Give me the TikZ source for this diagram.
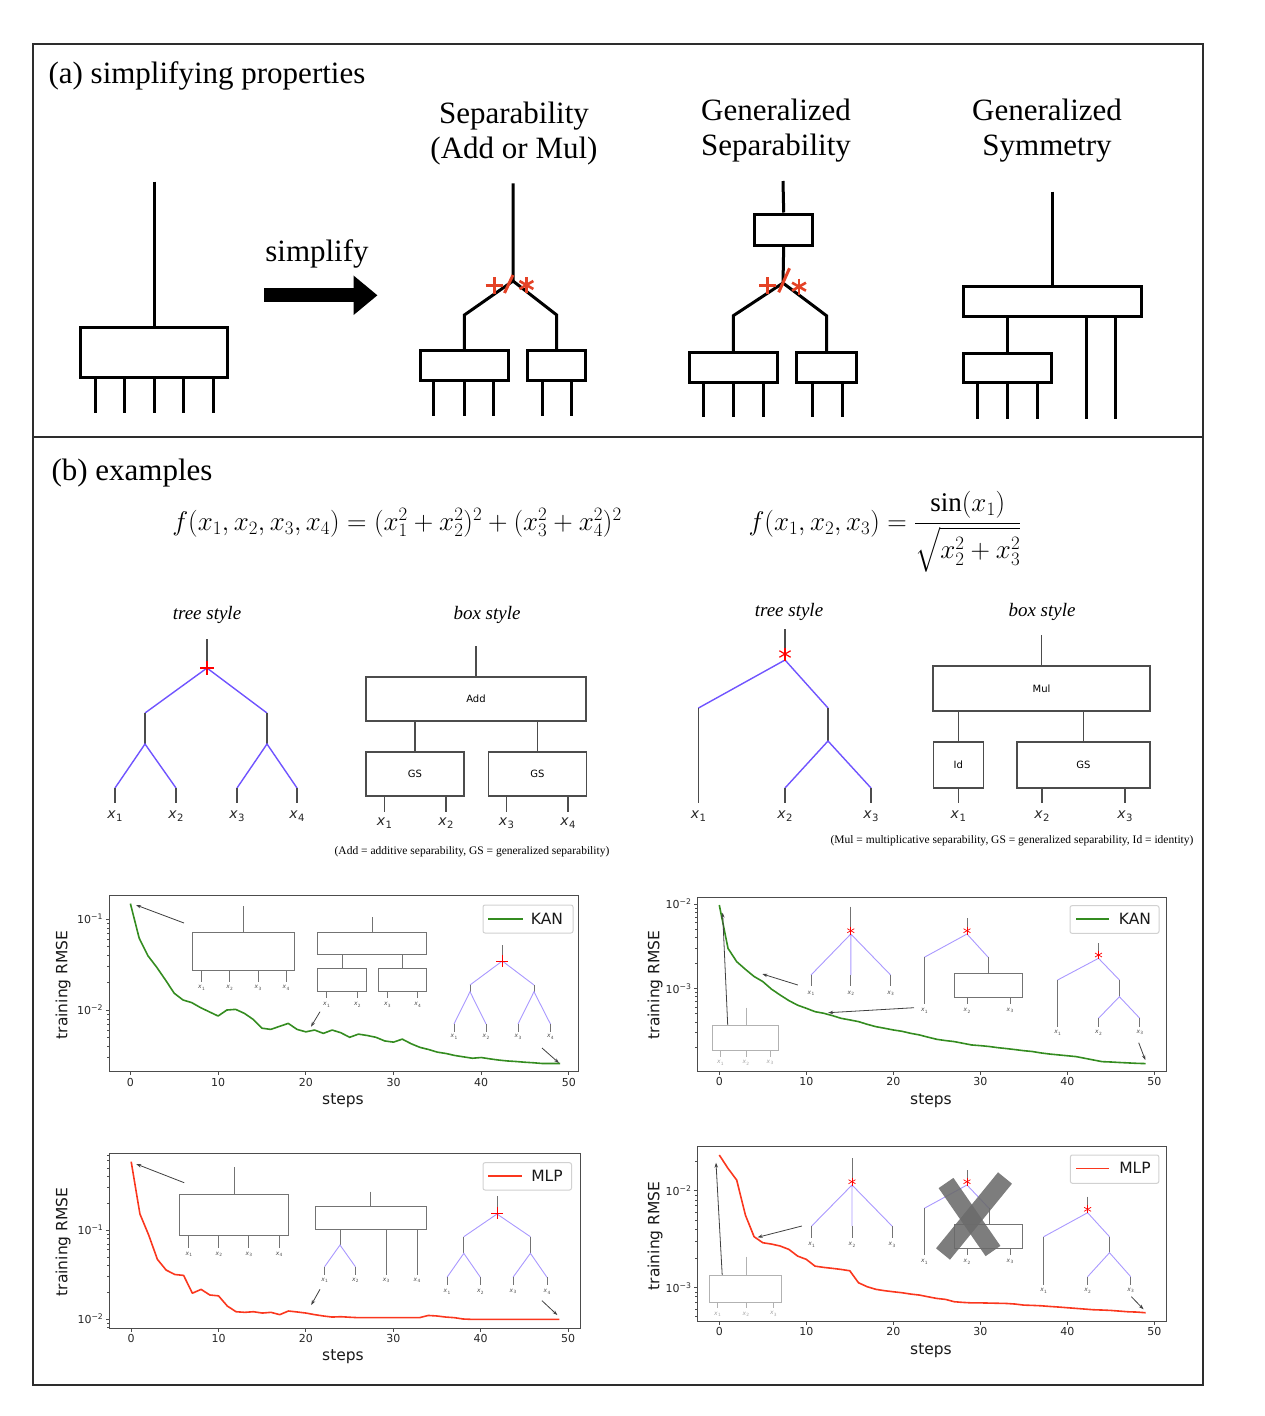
\RequirePackage{fix-cm}
\documentclass[tikz,border=0pt]{standalone}
\usepackage{amsmath}
\usepackage{fontspec}
\setmainfont{Liberation Serif}
\newfontfamily\plotfont{DejaVu Sans}
\usepackage{graphicx}
\usepackage{tikz}
\usetikzlibrary{arrows.meta,positioning,calc}

\definecolor{opred}{RGB}{228,66,38}
\definecolor{edgeblue}{RGB}{112,84,255}
\definecolor{kangreen}{RGB}{52,140,32}
\definecolor{mlpred}{RGB}{250,55,30}
\definecolor{framegray}{RGB}{45,45,45}

\newcommand{\xs}[1]{\textit{x}\kern.03em\raisebox{-.4ex}{\scalebox{.72}{#1}}}

\begin{document}
\begin{tikzpicture}[x=1pt,y=-1pt,
  fat/.style={line width=3pt},
  fatbox/.style={draw,line width=3pt,inner sep=0pt},
  head/.style={font=\fontsize{31}{35}\selectfont,align=center},
  opline/.style={opred,line width=3pt},
  sty/.style={font=\fontsize{19}{19}\selectfont\itshape},
  eq/.style={font=\fontsize{27}{27}\selectfont},
  stem/.style={black!70,line width=1.1pt},
  bedge/.style={edgeblue,line width=1.4pt},
  sbox/.style={draw=black!70,line width=1.1pt,inner sep=0pt,font=\plotfont\fontsize{10}{10}\selectfont},
  xlab/.style={font=\plotfont\fontsize{14}{14}\selectfont,text=black!85},
  note/.style={font=\fontsize{11.5}{11.5}\selectfont},
  frameline/.style={framegray!85,line width=1pt},
  ticklab/.style={font=\plotfont\fontsize{11}{11}\selectfont,text=black!85,inner sep=2pt},
  lab/.style={font=\plotfont\fontsize{15.5}{15.5}\selectfont,text=black!90},
  legbox/.style={draw=black!18,rounded corners=2pt,fill=white,line width=1pt},
  istem/.style={black!55,line width=0.8pt},
  iedge/.style={edgeblue!60,line width=0.9pt},
  ibox/.style={draw=black!55,line width=0.8pt},
  ilab/.style={font=\plotfont\fontsize{6}{6}\selectfont,text=black!70,inner sep=0pt},
  faint/.style={black!30,line width=0.8pt},
  parrow/.style={black!75,line width=0.8pt,-{Stealth[length=5pt,width=3.5pt]}},
  kan/.style={kangreen,line width=1.6pt,line join=round},
  mlp/.style={mlpred,line width=1.6pt,line join=round}]
\useasboundingbox (0,0) rectangle (1264,1416);
\draw[framegray,line width=2pt] (33,44) rectangle (1203,1385);
\draw[framegray,line width=2pt] (33,437) -- (1203,437);

% ---------- (a) simplifying properties
\node (ta) [head,anchor=west] at (45,76) {(a) simplifying properties};

\node (whole) [fatbox,minimum width=147pt,minimum height=50pt] at (154.4,352.3) {};
\coordinate (wtop) at (154.4,181.7);
\draw[fat] (wtop) -- (whole.north);
\foreach \x in {95,124.5,154.4,183.8,213.7}
  \draw[fat] (\x,0 |- whole.south) -- (\x,412.7);

\node (simp) [head] at (317,254) {simplify};
\coordinate (ar0) at (264,295.3);
\coordinate (ar1) at (377.5,295.3);
\draw[line width=14pt,-{Triangle[length=24pt,width=38pt]}] (ar0) -- (ar1);

% separability
\node (sep) [head] at (514,134) {Separability\\(Add or Mul)};
\coordinate (s0) at (513,183.3);
\coordinate (sr) at (513,281);
\coordinate (sa) at (464.4,315);
\coordinate (sb) at (556.7,315);
\node (sx) [fatbox,minimum width=88pt,minimum height=30pt] at (464.4,365.7) {};
\node (sy) [fatbox,minimum width=58.5pt,minimum height=30pt] at (556.7,365.7) {};
\draw[fat] (s0) -- (sr) -- (sa) -- (sx.north);
\draw[fat] (sr) -- (sb) -- (sy.north);
\foreach \x in {433.7,464.4,493.8}
  \draw[fat] (\x,0 |- sx.south) -- (\x,416);
\foreach \x in {542,571.5}
  \draw[fat] (\x,0 |- sy.south) -- (\x,416);
% +/* sign
\coordinate (sp) at (494,285.5);
\coordinate (sm) at (526.4,285);
\draw[opline] (sp) +(-8.5pt,0pt) -- +(8.5pt,0pt) (sp) +(0pt,-8.5pt) -- +(0pt,8.5pt);
\draw[opline] (504.5,293) -- (513,275);
\foreach \a in {90,30,150}
  \draw[opline,line width=2.6pt] (sm) +(\a:8pt) -- +(\a+180:8pt);

% generalized separability
\node (gsep) [head] at (776,131) {Generalized\\Separability};
\coordinate (g0) at (783,181);
\node (gtop) [fatbox,minimum width=58.5pt,minimum height=31pt] at (783.7,229.5) {};
\coordinate (gr) at (783,283);
\coordinate (ga) at (733.3,315.7);
\coordinate (gb) at (826.5,315.7);
\node (gx) [fatbox,minimum width=88.5pt,minimum height=30pt] at (733.3,367.3) {};
\node (gy) [fatbox,minimum width=59.5pt,minimum height=30pt] at (826.5,367.3) {};
\draw[fat] (g0) -- (gtop.north);
\draw[fat] (gtop.south) -- (gr) -- (ga) -- (gx.north);
\draw[fat] (gr) -- (gb) -- (gy.north);
\foreach \x in {703.6,733.3,763.8}
  \draw[fat] (\x,0 |- gx.south) -- (\x,417.3);
\foreach \x in {812,842}
  \draw[fat] (\x,0 |- gy.south) -- (\x,417.3);
% +/* sign
\coordinate (gp) at (767.5,285.5);
\coordinate (gm) at (799,286.7);
\draw[opline] (gp) +(-8.5pt,0pt) -- +(8.5pt,0pt) (gp) +(0pt,-8.5pt) -- +(0pt,8.5pt);
\draw[opline] (778.7,292.3) -- (789.5,268.3);
\foreach \a in {90,30,150}
  \draw[opline,line width=2.6pt] (gm) +(\a:8pt) -- +(\a+180:8pt);

% generalized symmetry
\node (gsym) [head] at (1047,131) {Generalized\\Symmetry};
\coordinate (y0) at (1052,191.7);
\node (ybig) [fatbox,minimum width=178pt,minimum height=30pt] at (1052,301.7) {};
\node (ysmall) [fatbox,minimum width=88pt,minimum height=29pt] at (1007.9,367.8) {};
\draw[fat] (y0) -- (ybig.north);
\draw[fat] (ysmall.north |- ybig.south) -- (ysmall.north);
\foreach \x in {977.6,1007.9,1037.8}
  \draw[fat] (\x,0 |- ysmall.south) -- (\x,419);
\foreach \x in {1086,1115}
  \draw[fat] (\x,0 |- ybig.south) -- (\x,419);

% ---------- (b) examples
\node (tb) [head,anchor=west] at (48,473) {(b) examples};
\node (f1) [eq,anchor=base] at (397,530) {$f(x_1,x_2,x_3,x_4) = (x_1^2+x_2^2)^2+(x_3^2+x_4^2)^2$};
\node (f2) [eq,anchor=base west] at (745,530) {$f(x_1,x_2,x_3) = \dfrac{\sin(x_1)}{\sqrt{x_2^2+x_3^2}}$};

% left tree style
\node (ts1) [sty] at (207,615) {tree style};
\coordinate (l0) at (207,639);
\coordinate (lr) at (207,668);
\coordinate (la) at (145,713);
\coordinate (lb) at (267,713);
\coordinate (la2) at (145,744);
\coordinate (lb2) at (267,744);
\draw[stem] (l0) -- (lr);
\draw[bedge] (la) -- (lr) -- (lb);
\draw[stem] (la) -- (la2) (lb) -- (lb2);
\draw[bedge] (115,788) -- (la2) -- (176,788) (237,788) -- (lb2) -- (297,788);
\foreach \x/\i in {115/1,176/2,237/3,297/4} {
  \node (lx\i) [xlab] at (\x,816) {\xs{\i}};
  \draw[stem] (\x,788) -- (\x,803);
}
\draw[red,line width=1.3pt] (200,668) -- (214,668) (207,661) -- (207,675);

% left box style
\node (bs1) [sty] at (487,615) {box style};
\node (add) [sbox,minimum width=220pt,minimum height=44pt] at (476,699) {Add};
\node (gsa) [sbox,minimum width=98pt,minimum height=44pt] at (415,774) {GS};
\node (gsb) [sbox,minimum width=97.5pt,minimum height=44pt] at (537.3,774) {GS};
\coordinate (a0) at (476,646);
\draw[stem] (a0) -- (add.north);
\draw[stem] (gsa.north |- add.south) -- (gsa.north);
\draw[stem] (gsb.north |- add.south) -- (gsb.north);
\foreach \x/\i in {384.5/1,446/2} {
  \draw[stem] (\x,0 |- gsa.south) -- (\x,812);
  \node (bx\i) [xlab] at (\x,823) {\xs{\i}};
}
\foreach \x/\i in {506.5/3,568/4} {
  \draw[stem] (\x,0 |- gsb.south) -- (\x,812);
  \node (bx\i) [xlab] at (\x,823) {\xs{\i}};
}
\node (n1) [note] at (472,852) {(Add = additive separability, GS = generalized separability)};

% right tree style
\node (ts2) [sty] at (789,612) {tree style};
\coordinate (r0) at (785,629);
\coordinate (rr) at (785,660);
\coordinate (ra) at (698.5,708);
\coordinate (rb) at (828,708);
\coordinate (rb2) at (828,741);
\draw[stem] (r0) -- (rr);
\draw[bedge] (ra) -- (rr) -- (rb);
\draw[stem] (ra) -- (698.5,803) (rb) -- (rb2);
\draw[bedge] (785,788) -- (rb2) -- (871,788);
\draw[stem] (785,788) -- (785,803) (871,788) -- (871,803);
\foreach \x/\i in {698.5/1,785/2,871/3}
  \node (rx\i) [xlab] at (\x,816) {\xs{\i}};
\foreach \a in {90,30,150}
  \draw[red,line width=1.2pt] (785,654) +(\a:6.5pt) -- +(\a+180:6.5pt);

% right box style
\node (bs2) [sty] at (1042,612) {box style};
\node (mul) [sbox,minimum width=217pt,minimum height=45pt] at (1041.5,688.5) {Mul};
\node (idb) [sbox,minimum width=50.5pt,minimum height=46pt] at (958.3,765) {Id};
\node (gsc) [sbox,minimum width=133pt,minimum height=46pt] at (1083.5,765) {GS};
\coordinate (m0) at (1041.5,635);
\draw[stem] (m0) -- (mul.north);
\draw[stem] (idb.north |- mul.south) -- (idb.north);
\draw[stem] (gsc.north |- mul.south) -- (gsc.north);
\draw[stem] (idb.south) -- (958.3,803);
\foreach \x in {1042,1125}
  \draw[stem] (\x,0 |- gsc.south) -- (\x,803);
\foreach \x/\i in {958.3/1,1042/2,1125/3}
  \node (mx\i) [xlab] at (\x,816) {\xs{\i}};
\node (n2) [note] at (1012,841) {(Mul = multiplicative separability, GS = generalized separability, Id = identity)};

% ---------- plot 1: KAN, left
\begin{scope}[shift={(130.4,828)},x=8.77pt,y=91pt]
  \draw[frameline] (-2.44,-0.747) rectangle (51.15,-2.681);
  \foreach \s in {0,10,...,50}
    \draw[frameline] (\s,-2.681) -- ++(0pt,-3.5pt) node[ticklab,below] {\s};
  \foreach \d/\t in {-1/1,-2/2}
    \draw[frameline] (-2.44,\d) -- ++(-3.5pt,0pt) node[ticklab,left] {10\textsuperscript{−\t}};
  \foreach \d in {-3,-2,-1} \foreach \k in {2,...,9} {
    \pgfmathsetmacro\lv{\d+log10(\k)}
    \ifdim\lv pt<-0.747pt \ifdim\lv pt>-2.681pt
      \draw[frameline,line width=0.6pt] (-2.44,\lv) -- ++(-2pt,0pt);
    \fi\fi}
  \draw[kan] plot coordinates {(0,-0.831) (1,-1.21) (2,-1.404) (3,-1.53) (4,-1.67) (5,-1.816) (6,-1.89) (7,-1.919) (8,-1.974) (9,-2.02) (10,-2.066) (11,-2.0) (12,-1.993) (13,-2.037) (14,-2.103) (15,-2.2) (16,-2.213) (17,-2.18) (18,-2.147) (19,-2.213) (20,-2.24) (21,-2.22) (22,-2.257) (23,-2.22) (24,-2.25) (25,-2.3) (26,-2.265) (27,-2.28) (28,-2.3) (29,-2.34) (30,-2.353) (31,-2.32) (32,-2.37) (33,-2.41) (34,-2.434) (35,-2.463) (36,-2.478) (37,-2.5) (38,-2.515) (39,-2.53) (40,-2.522) (41,-2.537) (42,-2.55) (43,-2.56) (44,-2.566) (45,-2.574) (46,-2.58) (47,-2.588) (48,-2.588) (49,-2.588)};
\end{scope}
\node (y1) [lab,rotate=90] at (63,985) {training RMSE};
\node (s1) [lab] at (343,1101) {steps};
\draw[legbox] (483,905) rectangle (573,933);
\draw[kan] (488,919) -- (523,919);
\node (k1) [lab] at (547,919) {KAN};
% insets
\draw[parrow] (184,923) -- (136,905);
\draw[istem] (243.8,906) -- (243.8,932);
\draw[ibox] (192.7,932) rectangle (294.6,970);
\foreach \x/\i in {201.5/1,229.6/2,258/3,286/4} {
  \draw[istem] (\x,970) -- (\x,981.7);
  \node[ilab] at (\x,988) {\xs{\i}};
}
\draw[istem] (372.7,917) -- (372.7,932);
\draw[ibox] (317.7,932) rectangle (426.5,954);
\draw[istem] (342,954) -- (342,968.3) (402.3,954) -- (402.3,968.3);
\draw[ibox] (317.7,968.3) rectangle (366,991);
\draw[ibox] (378.5,968.3) rectangle (426.5,991);
\foreach \x/\i in {326.5/1,357.3/2,387.3/3,417.7/4} {
  \draw[istem] (\x,991) -- (\x,998);
  \node[ilab] at (\x,1005) {\xs{\i}};
}
\draw[parrow] (320,1011.7) -- (311,1026.7);
\draw[istem] (502.3,945) -- (502.3,961);
\draw[iedge] (470,985) -- (502.3,961) -- (534,985);
\draw[istem] (470,985) -- (470,991.7) (534,985) -- (534,991.7);
\draw[iedge] (454,1024) -- (470,991.7) -- (486,1024) (518,1024) -- (534,991.7) -- (550.4,1024);
\foreach \x/\i in {454/1,486/2,518/3,550.4/4} {
  \draw[istem] (\x,1024) -- (\x,1031.7);
  \node[ilab] at (\x,1037) {\xs{\i}};
}
\draw[red,line width=1pt] (496.3,961) -- (508.3,961) (502.3,955) -- (502.3,967);
\draw[parrow] (542,1048) -- (559,1063);

% ---------- plot 2: KAN, right
\begin{scope}[shift={(719.3,735.4)},x=8.70pt,y=84.3pt]
  \draw[frameline] (-2.51,-1.921) rectangle (51.45,-3.989);
  \foreach \s in {0,10,...,50}
    \draw[frameline] (\s,-3.989) -- ++(0pt,-3.5pt) node[ticklab,below] {\s};
  \foreach \d/\t in {-2/2,-3/3}
    \draw[frameline] (-2.51,\d) -- ++(-3.5pt,0pt) node[ticklab,left] {10\textsuperscript{−\t}};
  \foreach \d in {-4,-3,-2} \foreach \k in {2,...,9} {
    \pgfmathsetmacro\lv{\d+log10(\k)}
    \ifdim\lv pt<-1.921pt \ifdim\lv pt>-3.989pt
      \draw[frameline,line width=0.6pt] (-2.51,\lv) -- ++(-2pt,0pt);
    \fi\fi}
  \draw[kan] plot coordinates {(0,-2.012) (1,-2.526) (2,-2.684) (3,-2.775) (4,-2.86) (5,-2.92) (6,-3.01) (7,-3.08) (8,-3.146) (9,-3.2) (10,-3.237) (11,-3.277) (12,-3.296) (13,-3.324) (14,-3.356) (15,-3.375) (16,-3.395) (17,-3.427) (18,-3.455) (19,-3.474) (20,-3.494) (21,-3.51) (22,-3.534) (23,-3.553) (24,-3.58) (25,-3.605) (26,-3.62) (27,-3.632) (28,-3.652) (29,-3.672) (30,-3.68) (31,-3.69) (32,-3.704) (33,-3.715) (34,-3.727) (35,-3.74) (36,-3.75) (37,-3.767) (38,-3.78) (39,-3.79) (40,-3.8) (41,-3.81) (42,-3.83) (43,-3.85) (44,-3.87) (45,-3.874) (46,-3.88) (47,-3.885) (48,-3.89) (49,-3.893)};
\end{scope}
\node (y2) [lab,rotate=90] at (655,985) {training RMSE};
\node (s2) [lab] at (931,1101) {steps};
\draw[legbox] (1070,905.7) rectangle (1159,933.3);
\draw[kan] (1076,919) -- (1109,919);
\node (k2) [lab] at (1135,919) {KAN};
% insets
\draw[parrow] (727.7,1025) -- (722.6,912.7);
\draw[faint] (746,1007.7) -- (746,1025);
\draw[faint] (712.3,1025) rectangle (778,1050.7);
\foreach \x/\i in {720.4/1,745.9/2,770/3} {
  \draw[faint] (\x,1050.7) -- (\x,1056.7);
  \node[ilab,text=black!35] at (\x,1062.7) {\xs{\i}};
}
\draw[parrow] (797.8,985) -- (762.4,974);
\draw[istem] (850.8,906.7) -- (850.8,934);
\draw[iedge] (811,975) -- (850.8,934) -- (890.6,975) (850.8,934) -- (850.8,975);
\foreach \x/\i in {811/1,850.8/2,890.6/3} {
  \draw[istem] (\x,975) -- (\x,986);
  \node[ilab] at (\x,993.3) {\xs{\i}};
}
\foreach \a in {90,30,150}
  \draw[red,line width=0.7pt] (850.8,930.7) +(\a:4pt) -- +(\a+180:4pt);
\draw[parrow] (914,1007.7) -- (828.2,1012.7);
\draw[istem] (967,918.3) -- (967,934);
\draw[iedge] (924.3,957.3) -- (967,934) -- (988.2,957.3);
\draw[istem] (924.3,957.3) -- (924.3,1004) (988.2,957.3) -- (988.2,973.3);
\draw[ibox] (954.2,973.3) rectangle (1022.5,997.3);
\draw[istem] (967,997.3) -- (967,1004) (1010,997.3) -- (1010,1004);
\foreach \x/\i in {924.3/1,967/2,1010/3}
  \node[ilab] at (\x,1010.7) {\xs{\i}};
\foreach \a in {90,30,150}
  \draw[red,line width=0.7pt] (967,930.7) +(\a:4pt) -- +(\a+180:4pt);
\draw[istem] (1098.5,943.3) -- (1098.5,958.3);
\draw[iedge] (1057.6,980) -- (1098.5,958.3) -- (1119.4,980);
\draw[istem] (1057.6,980) -- (1057.6,1026.7) (1119.4,980) -- (1119.4,996.7);
\draw[iedge] (1098.5,1018.3) -- (1119.4,996.7) -- (1139.8,1018.3);
\draw[istem] (1098.5,1018.3) -- (1098.5,1026.7) (1139.8,1018.3) -- (1139.8,1026.7);
\foreach \x/\i in {1057.6/1,1098.5/2,1139.8/3}
  \node[ilab] at (\x,1032.7) {\xs{\i}};
\foreach \a in {90,30,150}
  \draw[red,line width=0.7pt] (1098.5,955) +(\a:4pt) -- +(\a+180:4pt);
\draw[parrow] (1138.7,1042.7) -- (1145.3,1060);

% ---------- plot 3: MLP, left
\begin{scope}[shift={(131.2,1141)},x=8.736pt,y=89pt]
  \draw[frameline] (-2.5,-0.138) rectangle (51.42,-2.104);
  \foreach \s in {0,10,...,50}
    \draw[frameline] (\s,-2.104) -- ++(0pt,-3.5pt) node[ticklab,below] {\s};
  \foreach \d/\t in {-1/1,-2/2}
    \draw[frameline] (-2.5,\d) -- ++(-3.5pt,0pt) node[ticklab,left] {10\textsuperscript{−\t}};
  \foreach \d in {-3,-2,-1} \foreach \k in {2,...,9} {
    \pgfmathsetmacro\lv{\d+log10(\k)}
    \ifdim\lv pt<-0.138pt \ifdim\lv pt>-2.104pt
      \draw[frameline,line width=0.6pt] (-2.5,\lv) -- ++(-2pt,0pt);
    \fi\fi}
  \draw[mlp] plot coordinates {(0,-0.232) (1,-0.82) (2,-1.056) (3,-1.33) (4,-1.45) (5,-1.5) (6,-1.51) (7,-1.71) (8,-1.667) (9,-1.73) (10,-1.74) (11,-1.854) (12,-1.918) (13,-1.925) (14,-1.918) (15,-1.933) (16,-1.925) (17,-1.951) (18,-1.91) (19,-1.921) (20,-1.933) (21,-1.951) (22,-1.966) (23,-1.978) (24,-1.974) (25,-1.98) (26,-1.985) (27,-1.985) (28,-1.985) (29,-1.985) (30,-1.985) (31,-1.985) (32,-1.985) (33,-1.985) (34,-1.96) (35,-1.966) (36,-1.978) (37,-1.985) (38,-2.0) (39,-2.004) (40,-2.004) (41,-2.004) (42,-2.004) (43,-2.004) (44,-2.004) (45,-2.004) (46,-2.004) (47,-2.004) (48,-2.004) (49,-2.004)};
\end{scope}
\node (y3) [lab,rotate=90] at (63,1242) {training RMSE};
\node (s3) [lab] at (343,1357) {steps};
\draw[legbox] (483,1162.7) rectangle (571.5,1190);
\draw[mlp] (488,1176) -- (522,1176);
\node (m1) [lab] at (547,1176) {MLP};
% insets
\draw[parrow] (184.2,1182.7) -- (136.2,1164);
\draw[istem] (234.2,1167.3) -- (234.2,1194.3);
\draw[ibox] (179.2,1194.3) rectangle (288,1235);
\foreach \x/\i in {188.8/1,218.8/2,248.8/3,279.2/4} {
  \draw[istem] (\x,1235) -- (\x,1248.3);
  \node[ilab] at (\x,1254.3) {\xs{\i}};
}
\draw[istem] (370.8,1191.7) -- (370.8,1206.7);
\draw[ibox] (315,1206.7) rectangle (426.5,1229.3);
\draw[istem] (340,1229.3) -- (340,1245);
\draw[iedge] (324.6,1266.7) -- (340,1245) -- (355.4,1266.7);
\draw[istem] (324.6,1266.7) -- (324.6,1275) (355.4,1266.7) -- (355.4,1275);
\draw[istem] (386.2,1229.3) -- (386.2,1275) (417,1229.3) -- (417,1275);
\foreach \x/\i in {324.6/1,355.4/2,386.2/3,417/4}
  \node[ilab] at (\x,1280.5) {\xs{\i}};
\draw[parrow] (320,1289.3) -- (311.2,1305);
\draw[istem] (497,1196) -- (497,1214);
\draw[iedge] (463.8,1236.7) -- (497,1214) -- (530.4,1236.7);
\draw[istem] (463.8,1236.7) -- (463.8,1253.3) (530.4,1236.7) -- (530.4,1253.3);
\draw[iedge] (447,1277.3) -- (463.8,1253.3) -- (480.4,1277.3) (513,1277.3) -- (530.4,1253.3) -- (547,1277.3);
\foreach \x/\i in {447/1,480.4/2,513/3,547/4} {
  \draw[istem] (\x,1277.3) -- (\x,1285);
  \node[ilab] at (\x,1291.7) {\xs{\i}};
}
\draw[red,line width=1pt] (491,1213) -- (503,1213) (497,1207) -- (497,1219);
\draw[parrow] (542,1300.7) -- (557.3,1315);

% ---------- plot 4: MLP, right
\begin{scope}[shift={(719.3,997.3)},x=8.70pt,y=96.7pt]
  \draw[frameline] (-2.51,-1.538) rectangle (51.45,-3.355);
  \foreach \s in {0,10,...,50}
    \draw[frameline] (\s,-3.355) -- ++(0pt,-3.5pt) node[ticklab,below] {\s};
  \foreach \d/\t in {-2/2,-3/3}
    \draw[frameline] (-2.51,\d) -- ++(-3.5pt,0pt) node[ticklab,left] {10\textsuperscript{−\t}};
  \foreach \d in {-4,-3,-2} \foreach \k in {2,...,9} {
    \pgfmathsetmacro\lv{\d+log10(\k)}
    \ifdim\lv pt<-1.538pt \ifdim\lv pt>-3.355pt
      \draw[frameline,line width=0.6pt] (-2.51,\lv) -- ++(-2pt,0pt);
    \fi\fi}
  \draw[mlp] plot coordinates {(0,-1.631) (1,-1.769) (2,-1.89) (3,-2.252) (4,-2.476) (5,-2.538) (6,-2.552) (7,-2.572) (8,-2.607) (9,-2.676) (10,-2.71) (11,-2.78) (12,-2.793) (13,-2.803) (14,-2.814) (15,-2.828) (16,-2.952) (17,-2.993) (18,-3.02) (19,-3.034) (20,-3.045) (21,-3.055) (22,-3.069) (23,-3.079) (24,-3.097) (25,-3.114) (26,-3.124) (27,-3.148) (28,-3.155) (29,-3.16) (30,-3.16) (31,-3.162) (32,-3.164) (33,-3.166) (34,-3.172) (35,-3.183) (36,-3.186) (37,-3.19) (38,-3.197) (39,-3.203) (40,-3.21) (41,-3.217) (42,-3.224) (43,-3.231) (44,-3.234) (45,-3.238) (46,-3.245) (47,-3.252) (48,-3.255) (49,-3.262)};
\end{scope}
\node (y4) [lab,rotate=90] at (655,1236) {training RMSE};
\node (s4) [lab] at (931,1351) {steps};
\draw[legbox] (1070.4,1155) rectangle (1158.8,1183.3);
\draw[mlp] (1076,1168.3) -- (1109,1168.3);
\node (m2) [lab] at (1135,1168.3) {MLP};
% insets
\draw[parrow] (722.2,1275) -- (716,1162.7);
\draw[faint] (746,1256.7) -- (746,1275);
\draw[faint] (709.4,1275) rectangle (781.8,1302.7);
\foreach \x/\i in {717.5/1,745.9/2,773.4/3} {
  \draw[faint] (\x,1302.7) -- (\x,1308.3);
  \node[ilab,text=black!35] at (\x,1314) {\xs{\i}};
}
\draw[parrow] (801.9,1226) -- (757.6,1237.3);
\draw[istem] (852,1158.3) -- (852,1185);
\draw[iedge] (811.7,1226) -- (852,1185) -- (892,1226) (852,1185) -- (852,1226);
\foreach \x/\i in {811.7/1,852/2,892/3} {
  \draw[istem] (\x,1226) -- (\x,1238.3);
  \node[ilab] at (\x,1245) {\xs{\i}};
}
\foreach \a in {90,30,150}
  \draw[red,line width=0.7pt] (852,1181.7) +(\a:4pt) -- +(\a+180:4pt);
\draw[istem] (967,1170) -- (967,1185);
\draw[iedge] (924.3,1208.3) -- (967,1185) -- (989,1208.3);
\draw[istem] (924.3,1208.3) -- (924.3,1255) (989,1208.3) -- (989,1224);
\draw[ibox] (954.2,1224) rectangle (1022.5,1248.3);
\draw[istem] (967,1248.3) -- (967,1255) (1010,1248.3) -- (1010,1255);
\foreach \x/\i in {924.3/1,967/2,1010/3}
  \node[ilab] at (\x,1261.7) {\xs{\i}};
\foreach \a in {90,30,150}
  \draw[red,line width=0.7pt] (967,1181.7) +(\a:4pt) -- +(\a+180:4pt);
\draw[black!58,opacity=0.88,line width=18pt] (946,1183) -- (993,1251);
\draw[black!58,opacity=0.88,line width=18pt] (1005,1178) -- (943,1254);
\draw[istem] (1087.6,1196.7) -- (1087.6,1212.7);
\draw[iedge] (1043.7,1236.7) -- (1087.6,1212.7) -- (1109.5,1236.7);
\draw[istem] (1043.7,1236.7) -- (1043.7,1285) (1109.5,1236.7) -- (1109.5,1252.7);
\draw[iedge] (1087.6,1276.7) -- (1109.5,1252.7) -- (1130.7,1276.7);
\draw[istem] (1087.6,1276.7) -- (1087.6,1285) (1130.7,1276.7) -- (1130.7,1285);
\foreach \x/\i in {1043.7/1,1087.6/2,1130.7/3}
  \node[ilab] at (\x,1290.7) {\xs{\i}};
\foreach \a in {90,30,150}
  \draw[red,line width=0.7pt] (1087.6,1209.3) +(\a:4pt) -- +(\a+180:4pt);
\draw[parrow] (1131.4,1296.7) -- (1143.5,1309.3);
\end{tikzpicture}
\end{document}
